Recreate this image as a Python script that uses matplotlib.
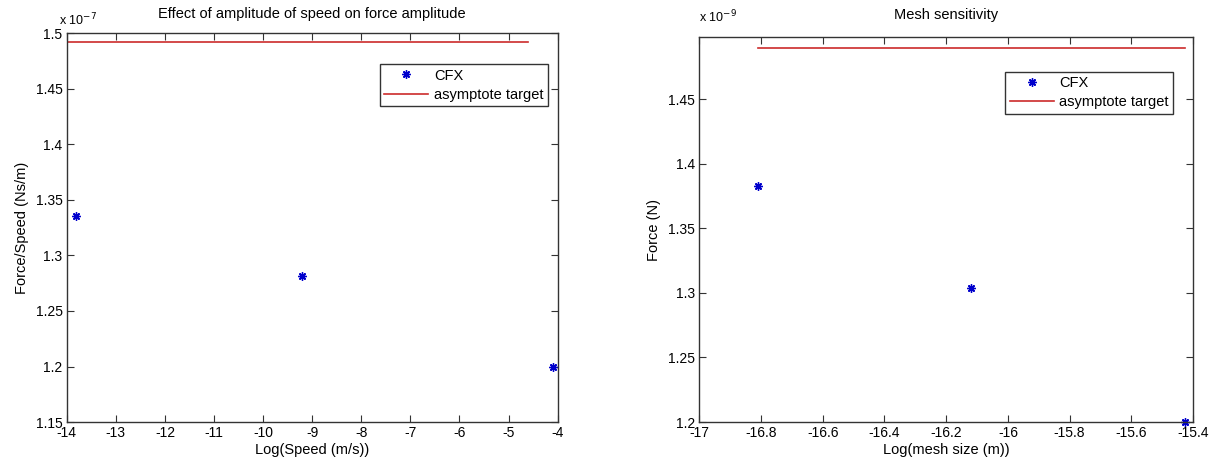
import matplotlib
matplotlib.use('Agg')
import matplotlib.pyplot as plt
import numpy as np

plt.rcParams['font.family'] = ['Liberation Sans', 'DejaVu Sans']
plt.rcParams['font.size'] = 10
plt.rcParams['axes.unicode_minus'] = False

# left plot: amplitude of speed
speed_log = [-13.8155, -9.2103, -4.10]
force_speed = [1.335, 1.281, 1.200]
asym_left = 1.492
asym_left_x = [-14.0, -4.6]

# right plot: mesh sensitivity
mesh_log = [-16.8112, -16.1181, -15.4249]
force = [1.383, 1.304, 1.200]
asym_right = 1.4895

star = (8, 2, 0)   # matlab-like asterisk

fig = plt.figure(figsize=(12.16, 4.69), dpi=100)
ax1 = fig.add_axes([0.0549, 0.100, 0.4037, 0.8296])
ax2 = fig.add_axes([0.5751, 0.100, 0.4060, 0.8211])

def style(ax):
    ax.tick_params(direction='in', top=True, right=True, length=5, labelsize=10, color='#333333', pad=3)
    for s in ax.spines.values():
        s.set_color('#333333')
        s.set_linewidth(1.0)

ax1.plot(speed_log, force_speed, linestyle='none', marker=star, color='#0000cc', markersize=6, mew=1.0, label='CFX')
ax1.plot(asym_left_x, [asym_left, asym_left], color='#cc2b2b', lw=1.2, label='asymptote target')
ax1.set_xlim(-14, -4)
ax1.set_ylim(1.15, 1.5)
ax1.set_xticks(np.arange(-14, -3, 1))
ax1.set_yticks([1.15, 1.2, 1.25, 1.3, 1.35, 1.4, 1.45, 1.5])
ax1.set_yticklabels(['1.15', '1.2', '1.25', '1.3', '1.35', '1.4', '1.45', '1.5'])
ax1.set_xlabel('Log(Speed (m/s))', labelpad=2, fontsize=10.5)
ax1.set_ylabel('Force/Speed (Ns/m)', labelpad=5, fontsize=10.5)
ax1.set_title('Effect of amplitude of speed on force amplitude', fontsize=10.5, pad=11)
ax1.text(-0.015, 1.012, r'x 10$^{-7}$', transform=ax1.transAxes, fontsize=9, va='bottom', ha='left')
style(ax1)
ax1.legend(loc='upper right', bbox_to_anchor=(0.98, 0.92), fontsize=10.5, fancybox=False,
           edgecolor='#333333', framealpha=1, borderaxespad=0, handlelength=3.0, numpoints=1,
           borderpad=0.3, labelspacing=0.35, handletextpad=0.4)

ax2.plot(mesh_log, force, linestyle='none', marker=star, color='#0000cc', markersize=6, mew=1.0, label='CFX', clip_on=False)
ax2.plot([mesh_log[0], mesh_log[-1]], [asym_right, asym_right], color='#cc2b2b', lw=1.2, label='asymptote target')
ax2.set_xlim(-17, -15.4)
ax2.set_ylim(1.2, 1.498)
ax2.set_xticks([-17, -16.8, -16.6, -16.4, -16.2, -16, -15.8, -15.6, -15.4])
ax2.set_xticklabels(['-17', '-16.8', '-16.6', '-16.4', '-16.2', '-16', '-15.8', '-15.6', '-15.4'])
ax2.set_yticks([1.2, 1.25, 1.3, 1.35, 1.4, 1.45])
ax2.set_yticklabels(['1.2', '1.25', '1.3', '1.35', '1.4', '1.45'])
ax2.set_xlabel('Log(mesh size (m))', labelpad=2, fontsize=10.5)
ax2.set_ylabel('Force (N)', labelpad=5, fontsize=10.5)
ax2.set_title('Mesh sensitivity', fontsize=10.5, pad=13)
ax2.text(0.0, 1.03, r'x 10$^{-9}$', transform=ax2.transAxes, fontsize=9, va='bottom', ha='left')
style(ax2)
ax2.legend(loc='upper right', bbox_to_anchor=(0.96, 0.91), fontsize=10.5, fancybox=False,
           edgecolor='#333333', framealpha=1, borderaxespad=0, handlelength=3.0, numpoints=1,
           borderpad=0.3, labelspacing=0.35, handletextpad=0.4)

fig.savefig('out.png', dpi=100)
